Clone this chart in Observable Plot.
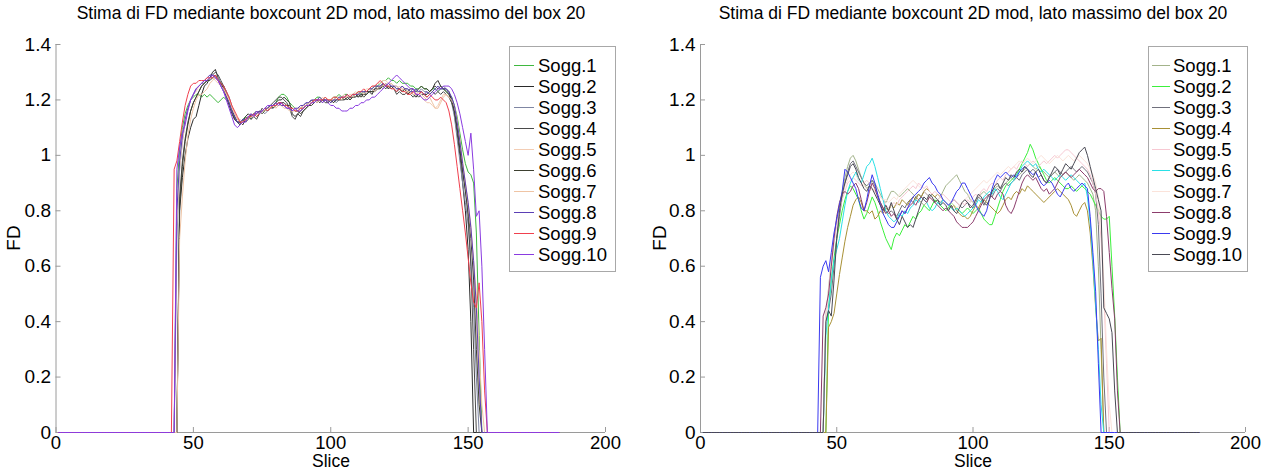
<!DOCTYPE html>
<html><head><meta charset="utf-8">
<script src="https://cdn.jsdelivr.net/npm/d3@7"></script>
<script src="https://cdn.jsdelivr.net/npm/@observablehq/plot@0.6"></script>
<style>
body{margin:0;background:#fff;font-family:"Liberation Sans",Arial,Helvetica,sans-serif;}
#root{position:relative;width:1261px;height:471px;overflow:hidden;background:#fff;}
.abs{position:absolute;white-space:nowrap;color:#000;font-size:19px;line-height:0.75;}
.ttl{font-size:17.5px;}
.xl{font-size:17.5px;}
.ctr{transform:translate(-50%,-50%);}
.rot{transform:translate(-50%,-50%) rotate(-90deg);}
.legend{position:absolute;border:1px solid #a8a8a8;background:#fff;box-sizing:border-box;padding-top:8px;font-size:18.5px;}
.row{display:flex;align-items:center;height:21px;line-height:21px;}
.row span.ln{display:inline-block;height:0;border-top:1px solid #000;}
svg{overflow:visible;}
</style></head><body><div id="root"></div><script>
// ---------- data ----------
const titleText = "Stima di FD mediante boxcount 2D mod, lato massimo del box 20";
const xLabel = "Slice";
const yLabel = "FD";
const names = ["Sogg.1","Sogg.2","Sogg.3","Sogg.4","Sogg.5","Sogg.6","Sogg.7","Sogg.8","Sogg.9","Sogg.10"];
const xTicks = [0, 50, 100, 150, 200];
const xTickLabels = ["0","50","100","150","200"];
const yTicks = [0, 0.2, 0.4, 0.6, 0.8, 1, 1.2, 1.4];
const yTickLabels = ["0","0.2","0.4","0.6","0.8","1","1.2","1.4"];
const firstSlice = 1, lastSlice = 183;

// left panel: first non-zero slice of each subject, then its values
const leftStarts = [44, 45, 44, 45, 44, 45, 45, 44, 43, 44];
const leftColors = ["#3fb83f","#2a2a2a","#7f86a3","#4a4a4a","#f3cdb4","#3d4030","#efc4a4","#5b3fb5","#f0404e","#8a3be0"];
const L1 = [0.88,1.02,1.10,1.15,1.18,1.20,1.21,1.22,1.22,1.21, 1.22,1.21,1.22,1.21,1.20,1.19,1.20,1.21,1.20,1.19,
 1.17,1.14,1.12,1.12,1.13,1.14,1.13,1.14,1.15,1.14, 1.15,1.16,1.16,1.17,1.17,1.18,1.19,1.21,1.22,1.22,
 1.21,1.19,1.18,1.17,1.16,1.17,1.17,1.18,1.18,1.19, 1.20,1.21,1.21,1.20,1.21,1.20,1.20,1.21,1.21,1.22,
 1.21,1.22,1.22,1.21,1.22,1.22,1.23,1.22,1.23,1.23, 1.24,1.24,1.25,1.25,1.26,1.27,1.27,1.28,1.27,1.27,
 1.26,1.27,1.26,1.26,1.26,1.25,1.25,1.24,1.24,1.25, 1.24,1.24,1.23,1.24,1.24,1.23,1.24,1.24,1.23,1.22,
 1.21,1.18,1.14,1.08,1.02,0.97,0.94,0.93,0.90,0.72, 0.35];
const L2 = [0.80,0.92,1.00,1.06,1.10,1.13,1.14,1.18,1.22,1.25, 1.26,1.28,1.30,1.31,1.28,1.26,1.25,1.23,1.20,1.17,
 1.14,1.12,1.11,1.12,1.14,1.15,1.14,1.15,1.16,1.15, 1.16,1.17,1.16,1.17,1.18,1.19,1.20,1.20,1.21,1.20,
 1.19,1.15,1.14,1.15,1.16,1.17,1.18,1.19,1.20,1.19, 1.20,1.20,1.19,1.20,1.20,1.19,1.20,1.21,1.20,1.20,
 1.21,1.20,1.21,1.21,1.22,1.21,1.22,1.22,1.23,1.23, 1.22,1.24,1.24,1.25,1.25,1.26,1.24,1.25,1.24,1.23,
 1.24,1.23,1.24,1.22,1.23,1.22,1.21,1.22,1.23,1.22, 1.22,1.23,1.24,1.26,1.27,1.25,1.24,1.24,1.23,1.20,
 1.15,1.08,1.00,0.90,0.80,0.66,0.40];
const L3 = [0.70,0.95,1.05,1.12,1.17,1.20,1.22,1.24,1.25,1.26, 1.26,1.27,1.28,1.28,1.29,1.28,1.26,1.25,1.23,1.21,
 1.18,1.15,1.13,1.12,1.13,1.12,1.14,1.13,1.15,1.14, 1.15,1.16,1.15,1.16,1.17,1.17,1.18,1.18,1.19,1.18,
 1.18,1.17,1.17,1.16,1.17,1.17,1.18,1.19,1.18,1.19, 1.20,1.20,1.19,1.20,1.20,1.19,1.20,1.20,1.19,1.20,
 1.21,1.20,1.21,1.21,1.22,1.21,1.22,1.22,1.23,1.22, 1.23,1.24,1.23,1.24,1.25,1.24,1.25,1.25,1.26,1.25,
 1.25,1.24,1.25,1.24,1.24,1.23,1.24,1.23,1.23,1.24, 1.23,1.23,1.22,1.23,1.24,1.23,1.24,1.25,1.24,1.22,
 1.19,1.14,1.06,0.98,0.90,0.83,0.75,0.62,0.45,0.20];
const L4 = [0.85,0.98,1.06,1.12,1.16,1.19,1.21,1.23,1.25,1.26, 1.27,1.28,1.29,1.30,1.29,1.27,1.25,1.22,1.19,1.16,
 1.13,1.12,1.11,1.13,1.12,1.13,1.15,1.14,1.13,1.15, 1.17,1.16,1.17,1.18,1.19,1.20,1.21,1.21,1.20,1.19,
 1.17,1.14,1.13,1.15,1.14,1.16,1.17,1.18,1.19,1.20, 1.19,1.20,1.20,1.19,1.19,1.20,1.19,1.20,1.21,1.20,
 1.20,1.21,1.20,1.21,1.22,1.21,1.22,1.21,1.22,1.23, 1.23,1.24,1.25,1.24,1.26,1.25,1.24,1.25,1.24,1.22,
 1.23,1.22,1.22,1.23,1.22,1.21,1.22,1.21,1.22,1.22, 1.21,1.22,1.23,1.22,1.23,1.22,1.23,1.22,1.21,1.19,
 1.16,1.10,1.03,0.95,0.88,0.78,0.60,0.30];
const L5 = [0.75,0.95,1.05,1.12,1.17,1.20,1.22,1.23,1.25,1.26, 1.27,1.27,1.28,1.28,1.27,1.26,1.25,1.24,1.22,1.20,
 1.18,1.15,1.13,1.12,1.12,1.13,1.14,1.14,1.15,1.15, 1.16,1.16,1.17,1.17,1.17,1.18,1.18,1.18,1.19,1.18,
 1.18,1.17,1.17,1.17,1.16,1.17,1.17,1.18,1.19,1.19, 1.20,1.20,1.20,1.21,1.20,1.20,1.20,1.21,1.20,1.21,
 1.21,1.22,1.21,1.22,1.22,1.23,1.22,1.23,1.23,1.24, 1.24,1.25,1.25,1.26,1.26,1.27,1.27,1.26,1.26,1.25,
 1.25,1.24,1.24,1.23,1.23,1.22,1.23,1.22,1.22,1.21, 1.20,1.19,1.19,1.18,1.17,1.18,1.20,1.22,1.22,1.21,
 1.20,1.17,1.12,1.05,0.97,0.90,0.83,0.75,0.60,0.40,0.15];
const L6 = [0.82,0.96,1.05,1.11,1.16,1.19,1.21,1.23,1.25,1.26, 1.27,1.27,1.28,1.29,1.27,1.26,1.24,1.21,1.18,1.15,
 1.13,1.12,1.12,1.11,1.13,1.14,1.13,1.14,1.15,1.16, 1.15,1.16,1.17,1.18,1.17,1.18,1.19,1.19,1.19,1.18,
 1.18,1.17,1.16,1.16,1.15,1.16,1.17,1.18,1.18,1.19, 1.20,1.19,1.20,1.20,1.19,1.20,1.19,1.20,1.20,1.21,
 1.20,1.21,1.20,1.21,1.21,1.22,1.21,1.22,1.22,1.23, 1.23,1.23,1.24,1.24,1.25,1.24,1.25,1.24,1.25,1.24,
 1.24,1.23,1.24,1.23,1.24,1.24,1.23,1.24,1.25,1.24, 1.24,1.23,1.24,1.25,1.24,1.25,1.24,1.23,1.22,1.20,
 1.16,1.10,1.02,0.94,0.87,0.80,0.70,0.55,0.30,0.10];
const L7 = [0.70,0.85,0.98,1.07,1.13,1.17,1.20,1.22,1.22,1.23, 1.24,1.26,1.27,1.28,1.27,1.25,1.24,1.22,1.20,1.17,
 1.15,1.13,1.13,1.12,1.13,1.13,1.14,1.14,1.15,1.15, 1.16,1.16,1.17,1.17,1.18,1.17,1.18,1.18,1.17,1.17,
 1.16,1.16,1.16,1.17,1.17,1.18,1.18,1.19,1.19,1.20, 1.19,1.20,1.20,1.21,1.20,1.20,1.20,1.21,1.21,1.20,
 1.21,1.21,1.22,1.21,1.22,1.22,1.23,1.22,1.23,1.24, 1.24,1.23,1.24,1.25,1.25,1.26,1.25,1.26,1.25,1.24,
 1.25,1.24,1.24,1.23,1.23,1.22,1.22,1.23,1.22,1.21, 1.20,1.21,1.19,1.17,1.17,1.19,1.21,1.22,1.21,1.20,
 1.18,1.13,1.06,0.98,0.90,0.82,0.73,0.62,0.50,0.30,0.10];
const L8 = [0.80,0.98,1.07,1.13,1.17,1.20,1.22,1.24,1.25,1.26, 1.27,1.28,1.29,1.29,1.28,1.27,1.25,1.23,1.21,1.19,
 1.16,1.14,1.12,1.12,1.13,1.13,1.14,1.14,1.15,1.15, 1.16,1.16,1.17,1.17,1.18,1.18,1.18,1.19,1.18,1.18,
 1.17,1.17,1.16,1.17,1.17,1.18,1.18,1.19,1.19,1.20, 1.20,1.20,1.21,1.20,1.20,1.20,1.19,1.20,1.20,1.21,
 1.21,1.21,1.22,1.21,1.22,1.22,1.22,1.23,1.23,1.23, 1.24,1.24,1.25,1.25,1.25,1.26,1.25,1.26,1.25,1.25,
 1.24,1.24,1.25,1.24,1.24,1.23,1.23,1.24,1.23,1.23, 1.22,1.23,1.22,1.23,1.24,1.25,1.24,1.24,1.24,1.23,
 1.21,1.18,1.12,1.05,0.97,0.90,0.83,0.74,0.62,0.45,0.20];
const L9 = [0.95,0.98,1.05,1.12,1.18,1.22,1.25,1.26,1.26,1.27, 1.27,1.27,1.28,1.28,1.28,1.29,1.27,1.26,1.25,1.23,
 1.21,1.18,1.16,1.14,1.12,1.12,1.13,1.14,1.14,1.15, 1.14,1.15,1.16,1.17,1.16,1.17,1.18,1.18,1.19,1.19,
 1.18,1.18,1.17,1.17,1.16,1.16,1.17,1.17,1.18,1.18, 1.19,1.20,1.20,1.20,1.20,1.21,1.20,1.20,1.21,1.21,
 1.20,1.21,1.21,1.22,1.21,1.22,1.22,1.23,1.23,1.24, 1.23,1.24,1.25,1.25,1.26,1.27,1.26,1.25,1.25,1.24,
 1.24,1.23,1.24,1.23,1.23,1.22,1.22,1.23,1.22,1.22, 1.23,1.22,1.21,1.22,1.21,1.20,1.20,1.21,1.20,1.19,
 1.16,1.11,1.04,0.96,0.88,0.80,0.72,0.63,0.54,0.47, 0.45,0.54,0.40,0.15];
const L10 = [0.95,1.03,1.08,1.11,1.16,1.20,1.22,1.24,1.25,1.26, 1.27,1.27,1.28,1.29,1.28,1.27,1.25,1.23,1.20,1.17,
 1.14,1.11,1.10,1.11,1.12,1.12,1.14,1.15,1.14,1.16, 1.15,1.16,1.17,1.18,1.18,1.18,1.19,1.18,1.19,1.18,
 1.17,1.17,1.16,1.17,1.16,1.16,1.17,1.18,1.18,1.19, 1.19,1.20,1.20,1.19,1.20,1.19,1.18,1.18,1.17,1.17,
 1.16,1.16,1.16,1.17,1.17,1.18,1.18,1.19,1.19,1.20, 1.20,1.21,1.21,1.22,1.23,1.24,1.25,1.26,1.27,1.28,
 1.29,1.28,1.27,1.26,1.25,1.24,1.24,1.22,1.22,1.21, 1.20,1.20,1.21,1.22,1.23,1.24,1.24,1.25,1.25,1.25,
 1.24,1.22,1.19,1.15,1.10,1.05,1.00,1.08,0.95,0.78,0.80,0.60,0.30];

// right panel
const rightStarts = [46, 47, 46, 47, 46, 46, 46, 45, 44, 46];
const rightColors = ["#a3b38a","#3cf03c","#70707c","#a89035","#f7c8d2","#2ae0e6","#fbe3da","#8c3c6c","#3a3af0","#4a4a55"];
const R1 = [0.42,0.52,0.62,0.70,0.76,0.82,0.87,0.92,0.96,0.99, 1.00,0.98,0.95,0.92,0.90,0.88,0.89,0.91,0.90,0.88,
 0.86,0.84,0.83,0.85,0.87,0.87,0.86,0.85,0.86,0.87, 0.88,0.87,0.86,0.85,0.84,0.83,0.82,0.83,0.85,0.86,
 0.85,0.84,0.85,0.87,0.89,0.90,0.91,0.92,0.93,0.91, 0.89,0.87,0.86,0.84,0.83,0.84,0.85,0.86,0.87,0.86,
 0.85,0.87,0.88,0.89,0.88,0.89,0.90,0.91,0.92,0.91, 0.92,0.93,0.94,0.95,0.96,0.97,0.96,0.95,0.96,0.95,
 0.94,0.93,0.92,0.93,0.94,0.93,0.92,0.93,0.94,0.93, 0.92,0.91,0.92,0.93,0.92,0.91,0.90,0.88,0.86,0.80,0.60,0.30];
const R2 = [0.45,0.55,0.63,0.70,0.75,0.80,0.84,0.87,0.89,0.88, 0.86,0.84,0.80,0.77,0.79,0.82,0.85,0.83,0.80,0.76,
 0.73,0.70,0.68,0.66,0.70,0.72,0.71,0.73,0.75,0.74, 0.76,0.78,0.77,0.79,0.80,0.82,0.81,0.80,0.82,0.84,
 0.83,0.82,0.81,0.80,0.81,0.83,0.82,0.81,0.80,0.79, 0.80,0.81,0.80,0.79,0.80,0.81,0.79,0.77,0.76,0.75,
 0.75,0.78,0.81,0.84,0.87,0.89,0.90,0.91,0.92,0.93, 0.95,0.97,0.99,1.01,1.04,1.02,0.99,0.97,0.95,0.93,
 0.91,0.90,0.91,0.92,0.91,0.90,0.89,0.88,0.88,0.89, 0.88,0.87,0.88,0.89,0.88,0.87,0.86,0.84,0.82,0.80,
 0.78,0.77,0.77,0.78,0.60,0.42,0.20];
const R3 = [0.40,0.44,0.50,0.60,0.70,0.78,0.85,0.90,0.94,0.97, 0.98,0.96,0.94,0.92,0.90,0.89,0.90,0.91,0.89,0.86,
 0.83,0.81,0.80,0.79,0.80,0.79,0.78,0.80,0.82,0.81, 0.83,0.84,0.83,0.85,0.86,0.85,0.87,0.86,0.85,0.86,
 0.85,0.84,0.83,0.84,0.83,0.82,0.83,0.84,0.83,0.82, 0.81,0.82,0.83,0.82,0.81,0.83,0.85,0.84,0.82,0.84,
 0.86,0.85,0.87,0.88,0.87,0.89,0.90,0.89,0.90,0.91, 0.92,0.91,0.93,0.94,0.95,0.94,0.95,0.94,0.92,0.93,
 0.91,0.90,0.92,0.93,0.94,0.95,0.94,0.93,0.94,0.95, 0.96,0.95,0.94,0.95,0.96,0.95,0.94,0.92,0.90,0.86,0.75,0.50,0.20];
const R4 = [0.38,0.40,0.43,0.50,0.57,0.63,0.69,0.74,0.78,0.82, 0.84,0.85,0.83,0.80,0.80,0.79,0.80,0.77,0.78,0.80,
 0.79,0.81,0.80,0.82,0.81,0.83,0.82,0.84,0.83,0.82, 0.84,0.85,0.84,0.86,0.85,0.87,0.88,0.87,0.86,0.85,
 0.86,0.85,0.84,0.83,0.82,0.81,0.82,0.80,0.79,0.78, 0.78,0.77,0.78,0.80,0.82,0.81,0.83,0.84,0.83,0.82,
 0.81,0.80,0.79,0.80,0.82,0.84,0.85,0.84,0.86,0.87, 0.86,0.88,0.87,0.89,0.88,0.87,0.86,0.85,0.84,0.83,
 0.84,0.85,0.86,0.87,0.88,0.87,0.86,0.85,0.84,0.82, 0.79,0.78,0.80,0.82,0.83,0.80,0.72,0.60,0.45,0.33,0.34];
const R5 = [0.40,0.50,0.60,0.68,0.75,0.80,0.84,0.87,0.90,0.91, 0.92,0.91,0.90,0.89,0.90,0.91,0.90,0.88,0.87,0.86,
 0.85,0.84,0.82,0.81,0.82,0.83,0.82,0.84,0.85,0.86, 0.87,0.88,0.89,0.88,0.90,0.89,0.88,0.89,0.87,0.86,
 0.87,0.86,0.85,0.86,0.85,0.84,0.83,0.84,0.83,0.82, 0.83,0.82,0.84,0.83,0.85,0.86,0.85,0.87,0.88,0.87,
 0.89,0.90,0.89,0.91,0.92,0.91,0.93,0.94,0.95,0.96, 0.95,0.97,0.98,0.97,0.96,0.97,0.98,0.97,0.96,0.97,
 0.98,0.97,0.98,0.99,1.00,0.99,1.00,1.01,1.02,1.02, 1.01,1.00,0.99,0.98,0.97,0.96,0.95,0.93,0.90,0.86,0.80,0.70,0.50,0.25];
const R6 = [0.35,0.45,0.55,0.62,0.66,0.70,0.76,0.82,0.87,0.90, 0.92,0.94,0.91,0.90,0.93,0.96,0.97,0.99,0.96,0.92,
 0.88,0.84,0.80,0.78,0.77,0.76,0.77,0.79,0.78,0.80, 0.79,0.81,0.82,0.84,0.83,0.85,0.84,0.83,0.81,0.80,
 0.81,0.83,0.82,0.84,0.83,0.82,0.81,0.80,0.81,0.80, 0.79,0.78,0.79,0.80,0.81,0.82,0.84,0.83,0.85,0.86,
 0.87,0.86,0.88,0.87,0.85,0.84,0.86,0.88,0.90,0.91, 0.93,0.94,0.96,0.97,0.98,0.97,0.96,0.97,0.95,0.94,
 0.95,0.94,0.93,0.92,0.91,0.92,0.93,0.92,0.91,0.92, 0.93,0.92,0.91,0.90,0.89,0.90,0.85,0.76,0.62,0.46,0.30,0.10];
const R7 = [0.42,0.52,0.62,0.70,0.77,0.82,0.86,0.89,0.91,0.93, 0.94,0.93,0.91,0.90,0.89,0.88,0.87,0.88,0.87,0.86,
 0.85,0.84,0.84,0.83,0.84,0.85,0.84,0.86,0.87,0.88, 0.89,0.90,0.91,0.90,0.89,0.88,0.87,0.86,0.85,0.84,
 0.83,0.84,0.85,0.84,0.83,0.82,0.83,0.82,0.81,0.82, 0.83,0.84,0.85,0.86,0.87,0.88,0.89,0.90,0.91,0.90,
 0.91,0.92,0.93,0.94,0.93,0.94,0.95,0.96,0.95,0.96, 0.97,0.98,0.97,0.98,0.99,0.98,0.97,0.98,0.99,1.00,
 0.99,0.98,0.97,0.98,0.99,1.00,0.99,0.98,0.99,1.00, 0.99,0.98,0.99,1.00,0.99,0.98,0.97,0.95,0.93,0.90,0.85,0.75,0.55,0.30,0.10];
const R8 = [0.42,0.45,0.50,0.60,0.70,0.78,0.83,0.86,0.87,0.86, 0.87,0.89,0.90,0.88,0.84,0.80,0.83,0.87,0.90,0.88,
 0.85,0.83,0.81,0.79,0.80,0.78,0.79,0.77,0.78,0.80, 0.79,0.81,0.82,0.83,0.82,0.84,0.85,0.84,0.83,0.85,
 0.84,0.83,0.82,0.81,0.80,0.81,0.80,0.79,0.78,0.76, 0.75,0.74,0.74,0.74,0.75,0.76,0.78,0.80,0.82,0.84,
 0.85,0.86,0.85,0.84,0.86,0.87,0.86,0.82,0.80,0.79, 0.81,0.84,0.87,0.90,0.92,0.93,0.92,0.91,0.92,0.90,
 0.88,0.87,0.88,0.86,0.87,0.88,0.90,0.92,0.93,0.94, 0.93,0.92,0.93,0.94,0.95,0.94,0.93,0.92,0.90,0.88,
 0.87,0.88,0.88,0.87,0.78,0.65,0.52,0.41,0.15];
const R9 = [0.56,0.60,0.62,0.58,0.65,0.72,0.77,0.82,0.87,0.95, 0.94,0.92,0.90,0.88,0.84,0.81,0.80,0.84,0.89,0.93,
 0.90,0.86,0.82,0.79,0.77,0.75,0.74,0.74,0.76,0.78, 0.80,0.79,0.81,0.83,0.85,0.86,0.87,0.88,0.90,0.91,
 0.92,0.90,0.89,0.87,0.86,0.84,0.83,0.82,0.83,0.85, 0.87,0.88,0.90,0.90,0.88,0.86,0.84,0.82,0.80,0.79,
 0.78,0.80,0.84,0.88,0.91,0.93,0.92,0.93,0.94,0.93, 0.92,0.93,0.92,0.94,0.95,0.96,0.95,0.94,0.93,0.94,
 0.92,0.90,0.89,0.90,0.91,0.90,0.88,0.86,0.85,0.87, 0.89,0.90,0.88,0.87,0.88,0.89,0.90,0.89,0.88,0.78,0.65,0.51,0.25];
const R10 = [0.40,0.44,0.42,0.55,0.70,0.80,0.86,0.90,0.93,0.96, 0.97,0.95,0.92,0.90,0.88,0.87,0.89,0.88,0.86,0.84,
 0.82,0.80,0.82,0.80,0.83,0.80,0.77,0.75,0.78,0.76, 0.74,0.75,0.74,0.77,0.80,0.83,0.85,0.84,0.86,0.85,
 0.83,0.84,0.82,0.83,0.82,0.80,0.82,0.80,0.79,0.81, 0.83,0.84,0.83,0.81,0.82,0.84,0.86,0.85,0.83,0.82,
 0.84,0.87,0.89,0.90,0.88,0.90,0.92,0.91,0.93,0.92, 0.94,0.95,0.94,0.96,0.95,0.93,0.92,0.94,0.95,0.93,
 0.91,0.90,0.92,0.94,0.96,0.95,0.93,0.95,0.97,0.96, 0.95,0.97,0.99,1.01,1.02,1.03,1.00,0.96,0.92,0.88,
 0.84,0.80,0.45,0.43,0.41,0.36,0.15];

const leftSeries = [L1,L2,L3,L4,L5,L6,L7,L8,L9,L10];
const rightSeries = [R1,R2,R3,R4,R5,R6,R7,R8,R9,R10];

// ---------- drawing ----------
const root = document.getElementById("root");
const FONT = '"Liberation Sans", Arial, Helvetica, sans-serif';
const axisGray = "#9a9a9a";

function expand(start, vals) {
  const out = [];
  for (let s = firstSlice; s <= lastSlice; s++) {
    const k = s - start;
    out.push({slice: s, fd: (k >= 0 && k < vals.length) ? vals[k] : 0});
  }
  return out;
}

function panel(series, starts, colors, geom) {
  const lines = series.map((vals, i) =>
    Plot.line(expand(starts[i], vals), {x: "slice", y: "fd", stroke: colors[i], strokeWidth: 1}));
  const svg = Plot.plot({
    width: geom.width, height: 471,
    marginLeft: geom.ml, marginRight: geom.mr, marginTop: 44, marginBottom: 39,
    x: {domain: [0, 200]}, y: {domain: [0, 1.4]},
    style: {fontSize: "19px", fontFamily: FONT, color: "#000", background: "transparent", overflow: "visible"},
    marks: [
      Plot.ruleY([0], {stroke: axisGray}),
      Plot.ruleX([0], {stroke: axisGray}),
      Plot.axisX(xTicks, {tickSize: 5, dy: -5, tickFormat: () => "", label: null, stroke: axisGray}),
      Plot.axisY(yTicks, {tickSize: 5, dx: 5, tickFormat: () => "", label: null, stroke: axisGray}),
      Plot.axisX(xTicks, {tickSize: 0, tickPadding: 3, fontSize: 18.5, tickFormat: d => xTickLabels[xTicks.indexOf(d)], label: null}),
      Plot.axisY(yTicks, {tickSize: 0, tickPadding: 5, tickFormat: d => yTickLabels[yTicks.indexOf(d)], label: null}),
      ...lines
    ]
  });
  svg.style.position = "absolute";
  svg.style.left = geom.left + "px";
  svg.style.top = "0px";
  root.appendChild(svg);
}

function addText(txt, x, y, cls) {
  const d = document.createElement("div");
  d.className = "abs " + cls;
  d.style.left = x + "px"; d.style.top = y + "px";
  d.textContent = txt;
  root.appendChild(d);
}

function legend(colors, g) {
  const box = document.createElement("div");
  box.className = "legend";
  box.style.left = g.left + "px"; box.style.top = g.top + "px";
  box.style.width = g.width + "px"; box.style.height = g.height + "px";
  names.forEach((n, i) => {
    const r = document.createElement("div");
    r.className = "row";
    const ln = document.createElement("span");
    ln.className = "ln";
    ln.style.width = g.lineW + "px";
    ln.style.marginLeft = g.lineL + "px";
    ln.style.marginRight = g.gap + "px";
    ln.style.borderTopColor = colors[i];
    const t = document.createElement("span");
    t.textContent = n;
    r.appendChild(ln); r.appendChild(t);
    box.appendChild(r);
  });
  root.appendChild(box);
}

panel(leftSeries, leftStarts, leftColors, {left: 0, width: 630, ml: 55.5, mr: 25});
panel(rightSeries, rightStarts, rightColors, {left: 630, width: 631, ml: 70, mr: 16});

addText(titleText, 331, 14, "ctr ttl");
addText(titleText, 973, 14, "ctr ttl");
addText(xLabel, 331, 461.5, "ctr xl");
addText(xLabel, 973, 461.5, "ctr xl");
addText(yLabel, 14, 238, "rot");
addText(yLabel, 660, 238, "rot");

legend(leftColors, {left: 509, top: 46, width: 107, height: 226, lineW: 20, lineL: 4, gap: 4});
legend(rightColors, {left: 1148, top: 46, width: 100, height: 226, lineW: 18, lineL: 3, gap: 3});
</script></body></html>
